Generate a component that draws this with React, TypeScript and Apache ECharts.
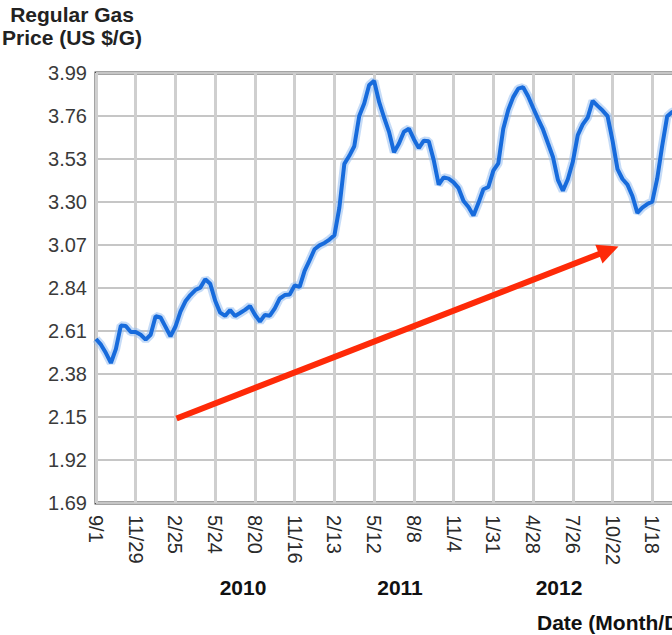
import React, { useEffect, useRef } from "react";
import * as echarts from "echarts";

// Tick labels (Month/Day), one every 8 data points
const tickLabels = [
  "9/1", "11/29", "2/25", "5/24", "8/20", "11/16", "2/13", "5/12",
  "8/8", "11/4", "1/31", "4/28", "7/26", "10/22", "1/18",
];
const pointsPerTick = 8;

// Regular gas price (US $/G)
const prices = [
  2.567, 2.537, 2.492, 2.439, 2.513, 2.639, 2.637, 2.605,
  2.605, 2.590, 2.564, 2.590, 2.689, 2.682, 2.632, 2.581,
  2.634, 2.714, 2.769, 2.802, 2.829, 2.842, 2.887, 2.863,
  2.772, 2.708, 2.691, 2.722, 2.690, 2.706, 2.723, 2.744,
  2.697, 2.660, 2.696, 2.692, 2.731, 2.784, 2.802, 2.805,
  2.854, 2.846, 2.932, 2.988, 3.047, 3.068, 3.081, 3.099,
  3.122, 3.270, 3.504, 3.547, 3.598, 3.760, 3.827, 3.926,
  3.948, 3.835, 3.752, 3.675, 3.566, 3.613, 3.676, 3.692,
  3.636, 3.588, 3.628, 3.625, 3.524, 3.393, 3.432, 3.425,
  3.405, 3.374, 3.305, 3.273, 3.228, 3.294, 3.368, 3.380,
  3.468, 3.507, 3.692, 3.792, 3.861, 3.906, 3.914, 3.866,
  3.804, 3.745, 3.688, 3.614, 3.541, 3.418, 3.360, 3.422,
  3.515, 3.658, 3.715, 3.752, 3.841, 3.814, 3.789, 3.759,
  3.628, 3.476, 3.423, 3.393, 3.332, 3.242, 3.270, 3.289,
  3.302, 3.426, 3.601, 3.758, 3.781, 3.792, 3.787, 3.776,
  3.765,
];

const yMin = 1.69;
const yMax = 3.99;
const yStep = 0.23;

const yearLabels = ["2010", "2011", "2012"];
const titleLines = ["Regular Gas", "Price (US $/G)"];
const xAxisTitle = "Date (Month/Day)";

const FONT = "'Liberation Sans', Arial, sans-serif";

export default function App() {
  const ref = useRef<HTMLDivElement>(null);

  useEffect(() => {
    if (!ref.current) return;
    const chart = echarts.init(ref.current, undefined, { renderer: "svg" });

    const categories = prices.map((_, i) =>
      i % pointsPerTick === 0 ? tickLabels[i / pointsPerTick] ?? "" : ""
    );

    const yearX = [243, 400, 559];
    const titleY = [14, 37];

    const boldText = (text: string, x: number, y: number, align: string, fill: string) => ({
      type: "text",
      x,
      y,
      style: {
        text,
        fontSize: 21,
        fontWeight: "bold",
        fontFamily: FONT,
        fill,
        align,
        verticalAlign: "middle",
      },
    });

    chart.setOption({
      animation: false,
      backgroundColor: "#ffffff",
      grid: {
        left: 96,
        top: 73,
        right: -20,
        bottom: 132,
        outerBoundsMode: "none",
        containLabel: false,
        show: true,
        borderColor: "#4a4a4a",
        borderWidth: 3,
        backgroundColor: "transparent",
      },
      xAxis: {
        type: "category",
        data: categories,
        boundaryGap: false,
        axisLine: { show: false },
        axisTick: { show: false },
        axisLabel: {
          interval: pointsPerTick - 1,
          rotate: -90,
          margin: 12,
          color: "#2a2a2a",
          fontSize: 20,
          fontFamily: FONT,
          hideOverlap: false,
        },
        splitLine: {
          show: true,
          interval: pointsPerTick - 1,
          lineStyle: { color: "#cfcfcf", width: 3 },
        },
      },
      yAxis: {
        type: "value",
        min: yMin,
        max: yMax,
        interval: yStep,
        axisLine: { show: false },
        axisTick: { show: false },
        axisLabel: {
          margin: 9,
          color: "#3a3a3a",
          fontSize: 20,
          fontFamily: FONT,
          formatter: (v: number) => v.toFixed(2),
        },
        splitLine: {
          show: true,
          lineStyle: { color: "#c6c6c6", width: 2 },
        },
      },
      series: [
        {
          type: "line",
          data: prices,
          showSymbol: false,
          silent: true,
          lineStyle: { color: "rgba(150,190,240,0.55)", width: 8.5 },
          z: 2,
        },
        {
          type: "line",
          data: prices,
          showSymbol: false,
          lineStyle: { color: "#176bdc", width: 4 },
          z: 3,
        },
      ],
      graphic: [
        ...titleLines.map((t, k) => boldText(t, 72, titleY[k], "center", "#222222")),
        ...yearLabels.map((t, k) => boldText(t, yearX[k], 587, "center", "#111111")),
        boldText(xAxisTitle, 537, 622, "left", "#111111"),
        {
          type: "line",
          shape: { x1: 176.5, y1: 418.5, x2: 603, y2: 252.5 },
          style: { stroke: "#fe2a08", lineWidth: 6 },
          z: 10,
        },
        {
          type: "polygon",
          shape: {
            points: [
              [618.5, 246.5],
              [595.3, 244.8],
              [602.5, 263.4],
            ],
          },
          style: { fill: "#fe2a08" },
          z: 10,
        },
      ],
    });

    return () => chart.dispose();
  }, []);

  return (
    <div
      ref={ref}
      style={{
        position: "absolute",
        left: 0,
        top: 0,
        width: 672,
        height: 635,
        overflow: "hidden",
        background: "#fff",
      }}
    />
  );
}
